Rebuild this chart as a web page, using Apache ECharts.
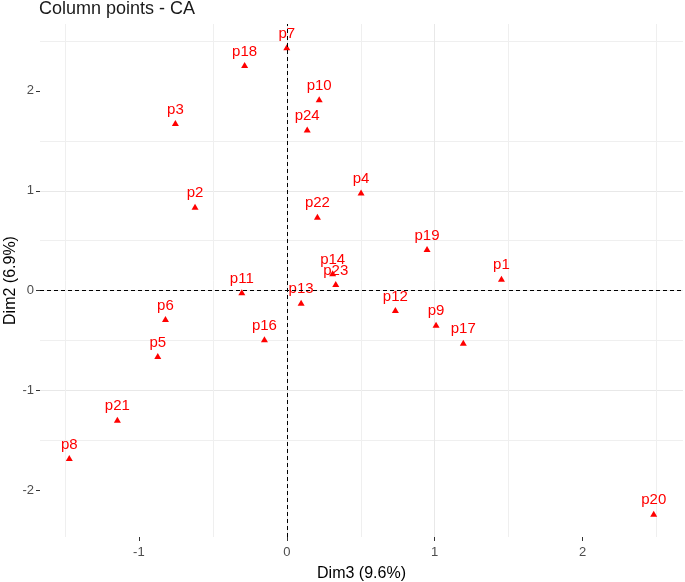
<!DOCTYPE html>
<html>
<head>
<meta charset="utf-8">
<script src="https://cdn.jsdelivr.net/npm/echarts@6/dist/echarts.min.js"></script>
<style>html,body{margin:0;padding:0;background:#fff}#c{width:685px;height:582px}</style>
</head>
<body>
<div id="c"></div>
<script>
const names = ['p1','p2','p3','p4','p5','p6','p7','p8','p9','p10','p11','p12','p13','p14','p15','p16','p17','p18','p19','p20','p21','p22','p23','p24'];
const dim3 = [1.451,-0.620,-0.753,0.502,-0.872,-0.820,0.000,-1.470,1.009,0.219,-0.304,0.734,0.097,0.310,null,-0.151,1.193,-0.285,0.948,2.480,-1.145,0.207,0.331,0.138];
const dim2 = [0.120,0.840,1.680,0.984,-0.653,-0.283,2.436,-1.676,-0.340,1.917,-0.016,-0.193,-0.120,0.174,null,-0.486,-0.520,2.260,0.417,-2.233,-1.293,0.740,0.067,1.615];
const xTicks = [-1, 0, 1, 2];
const yTicks = [-2, -1, 0, 1, 2];

const pts = [];
names.forEach((n, i) => { if (dim3[i] !== null) pts.push({ name: n, value: [dim3[i], dim2[i]] }); });

const font = 'Liberation Sans, Arial, sans-serif';
const chart = echarts.init(document.getElementById('c'), null, { renderer: 'canvas' });
chart.setOption({
  animation: false,
  backgroundColor: '#fff',
  title: {
    text: 'Column points - CA', left: 39, top: 0, padding: 0,
    textStyle: { fontSize: 18, fontWeight: 'normal', color: '#1a1a1a', fontFamily: font }
  },
  grid: { left: 40, right: 2, top: 24, bottom: 45, containLabel: false, outerBoundsMode: 'none' },
  xAxis: {
    type: 'value', min: -1.668, max: 2.678,
    name: 'Dim3 (9.6%)', nameLocation: 'middle', nameGap: 29, nameMoveOverlap: false,
    nameTextStyle: { fontSize: 16, color: '#000', fontFamily: font },
    axisLine: { show: false, onZero: false },
    axisTick: { show: true, length: 4, lineStyle: { color: '#333' }, customValues: xTicks },
    axisLabel: { color: '#4d4d4d', fontSize: 13, fontFamily: font, margin: 9, customValues: xTicks },
    splitLine: { show: true, showMinLine: false, showMaxLine: false, lineStyle: { color: '#e8e8e8', width: 1 } },
    minorTick: { show: false, splitNumber: 2 },
    minorSplitLine: { show: true, lineStyle: { color: '#efefef', width: 1 } }
  },
  yAxis: {
    type: 'value', min: -2.466, max: 2.67,
    name: 'Dim2 (6.9%)', nameLocation: 'middle', nameGap: 21, nameMoveOverlap: false,
    nameTextStyle: { fontSize: 16, color: '#000', fontFamily: font },
    axisLine: { show: false, onZero: false },
    axisTick: { show: true, length: 4, lineStyle: { color: '#333' }, customValues: yTicks },
    axisLabel: { color: '#4d4d4d', fontSize: 13, fontFamily: font, margin: 6, customValues: yTicks },
    splitLine: { show: true, showMinLine: false, showMaxLine: false, lineStyle: { color: '#e8e8e8', width: 1 } },
    minorTick: { show: false, splitNumber: 2 },
    minorSplitLine: { show: true, lineStyle: { color: '#efefef', width: 1 } }
  },
  series: [{
    type: 'scatter',
    data: pts,
    symbol: 'triangle',
    symbolSize: [7, 6],
    itemStyle: { color: '#ff0000', opacity: 1 },
    label: {
      show: true, position: 'top', distance: 3,
      formatter: p => p.name,
      color: '#ff0000', fontSize: 15, fontFamily: font
    },
    labelLayout: { hideOverlap: false },
    markLine: {
      silent: true, symbol: 'none', label: { show: false },
      lineStyle: { color: '#000', type: [4, 3], width: 1 },
      data: [{ xAxis: 0 }, { yAxis: 0 }]
    }
  }]
});
</script>
</body>
</html>
